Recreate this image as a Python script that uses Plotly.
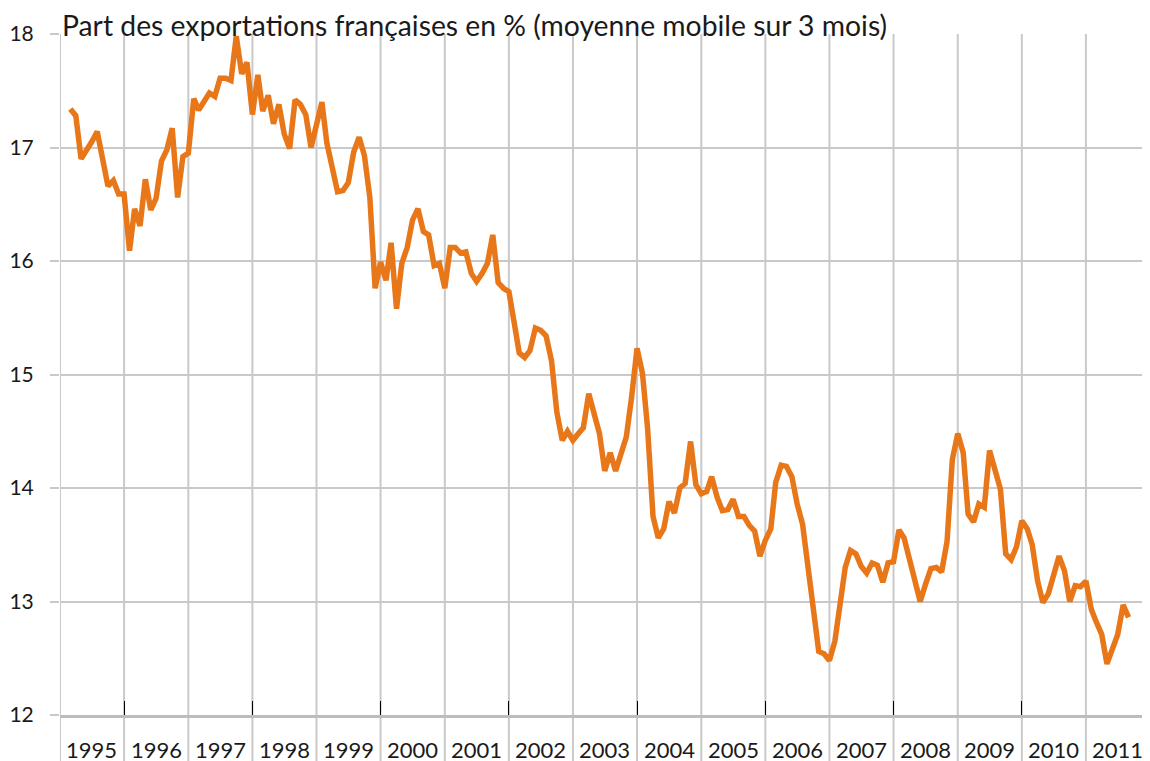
import pandas as pd
import plotly.graph_objects as go

# Monthly series (3-month moving average), March 1995 .. September 2011
start_month = "1995-03-01"
share = [
    17.34, 17.28, 16.90, 16.97, 17.05, 17.14, 16.90, 16.66, 16.71, 16.59,
    16.59, 16.09, 16.46, 16.31, 16.72, 16.45, 16.55, 16.88, 16.98, 17.17,
    16.56, 16.92, 16.95, 17.43, 17.33, 17.40, 17.48, 17.45, 17.61, 17.61,
    17.59, 17.98, 17.65, 17.75, 17.29, 17.64, 17.32, 17.46, 17.21, 17.38,
    17.12, 16.99, 17.42, 17.38, 17.29, 17.00, 17.21, 17.40, 17.04, 16.83,
    16.61, 16.62, 16.69, 16.96, 17.09, 16.93, 16.56, 15.76, 15.99, 15.83,
    16.16, 15.58, 15.98, 16.12, 16.36, 16.46, 16.26, 16.23, 15.96, 15.98,
    15.76, 16.12, 16.12, 16.07, 16.08, 15.89, 15.82, 15.89, 15.98, 16.23,
    15.81, 15.76, 15.73, 15.45, 15.19, 15.15, 15.21, 15.41, 15.39, 15.34,
    15.12, 14.67, 14.42, 14.50, 14.42, 14.48, 14.53, 14.83, 14.65, 14.48,
    14.15, 14.31, 14.15, 14.30, 14.45, 14.80, 15.23, 15.01, 14.53, 13.75,
    13.56, 13.64, 13.88, 13.78, 14.00, 14.04, 14.41, 14.03, 13.95, 13.97,
    14.10, 13.92, 13.80, 13.81, 13.90, 13.75, 13.75, 13.67, 13.62, 13.40,
    13.54, 13.64, 14.05, 14.20, 14.19, 14.10, 13.86, 13.68, 13.27, 12.88,
    12.56, 12.54, 12.48, 12.65, 12.95, 13.30, 13.45, 13.42, 13.31, 13.25,
    13.34, 13.32, 13.17, 13.34, 13.35, 13.63, 13.56, 13.36, 13.17, 13.00,
    13.15, 13.29, 13.30, 13.26, 13.53, 14.25, 14.48, 14.31, 13.77, 13.70,
    13.86, 13.83, 14.33, 14.16, 13.99, 13.42, 13.37, 13.48, 13.71, 13.64,
    13.50, 13.18, 12.99, 13.07, 13.23, 13.40, 13.27, 13.00, 13.14, 13.13,
    13.18, 12.93, 12.82, 12.71, 12.45, 12.57, 12.71, 12.97, 12.86,
]
years = list(range(1995, 2012))
year_labels = [str(y) for y in years]
y_ticks = [12, 13, 14, 15, 16, 17, 18]
title_text = "Part des exportations françaises en % (moyenne mobile sur 3 mois)"

dates = pd.date_range(start=start_month, periods=len(share), freq="MS")

FONT = "Lato"
GRID = "#c9c9c9"
ORANGE = "#E8771A"

fig = go.Figure()
fig.add_trace(go.Scatter(
    x=dates, y=share, mode="lines",
    line=dict(color=ORANGE, width=5.5, shape="linear"),
    hoverinfo="x+y", showlegend=False,
))

shapes = []
for y in years:
    shapes.append(dict(
        type="line", xref="x", yref="paper",
        x0=f"{y}-01-01", x1=f"{y}-01-01", y0=-0.08, y1=1,
        line=dict(color=GRID, width=2), layer="below",
    ))

annotations = []
for y, lab in zip(years, year_labels):
    annotations.append(dict(
        x=f"{y}-07-02", y=0, xref="x", yref="paper",
        text=lab, showarrow=False, yanchor="top", xanchor="center",
        yshift=-19, font=dict(family=FONT, size=22, color="#1a1a1a"),
    ))
annotations.append(dict(
    x=0, y=1, xref="paper", yref="paper", text=title_text,
    showarrow=False, xanchor="left", yanchor="bottom", xshift=1, yshift=-9,
    borderpad=0,
    font=dict(family=FONT, size=28.3, color="#1a1a1a"),
))

fig.update_layout(
    width=1150, height=761,
    margin=dict(l=52, r=8, t=26, b=54, autoexpand=False),
    paper_bgcolor="white", plot_bgcolor="white",
    shapes=shapes, annotations=annotations,
    xaxis=dict(
        type="date", range=["1995-01-01", "2012-01-01"],
        showgrid=False, zeroline=False, automargin=False,
        showline=True, linecolor="#bdbdbd", linewidth=3,
        tick0="1996-01-01", dtick="M24",
        ticks="inside", ticklen=14, tickwidth=1, tickcolor="#000000",
        showticklabels=False,
    ),
    yaxis=dict(
        range=[12, 18], tickvals=y_ticks, ticktext=[str(v) for v in y_ticks],
        showgrid=True, gridcolor=GRID, gridwidth=2, zeroline=False,
        showline=False, automargin=False,
        ticks="outside", ticklen=9, tickwidth=2, tickcolor=GRID,
        ticklabelstandoff=12,
        tickfont=dict(family=FONT, size=21, color="#1a1a1a"),
    ),
)

fig.write_html("out.html")
